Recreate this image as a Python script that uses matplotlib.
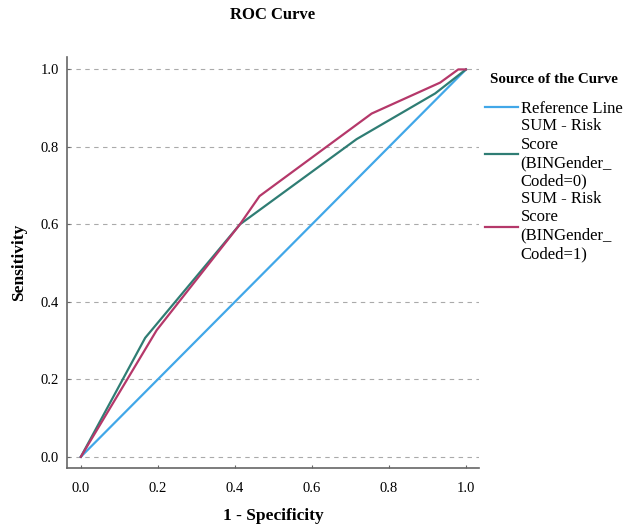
import matplotlib.pyplot as plt

# ROC points
ref_x = [0.0, 1.0]
ref_y = [0.0, 1.0]
male_x = [0.0, 0.167, 0.413, 0.716, 0.92, 1.0]
male_y = [0.0, 0.307, 0.600, 0.820, 0.938, 1.0]
female_x = [0.0, 0.197, 0.413, 0.464, 0.755, 0.933, 0.98, 1.0]
female_y = [0.0, 0.327, 0.600, 0.673, 0.886, 0.966, 1.0, 1.0]
labels = ["Reference Line",
          "SUM - Risk\nScore\n(BINGender_\nCoded=0)",
          "SUM - Risk\nScore\n(BINGender_\nCoded=1)"]
ticks = [0.0, 0.2, 0.4, 0.6, 0.8, 1.0]

plt.rcParams['font.family'] = ['Liberation Serif', 'DejaVu Serif']


def main():
    """draw the roc chart"""
    fig = plt.figure(figsize=(6.32, 5.31), dpi=100)
    ax = fig.add_axes([0.106, 0.1186, 0.652, 0.774])
    ax.plot(ref_x, ref_y, color="#41a7e8", lw=1.6, label=labels[0])
    ax.plot(male_x, male_y, color="#2f7d74", lw=1.6, label=labels[1])
    ax.plot(female_x, female_y, color="#b5386a", lw=1.6, label=labels[2])

    ax.set_xlim(-0.036, 1.034)
    ax.set_ylim(-0.029, 1.032)
    ax.set_xticks(ticks)
    ax.set_yticks(ticks)
    ax.set_xticklabels([f"{t:.1f}" for t in ticks])
    ax.set_yticklabels([f"{t:.1f}" for t in ticks])
    ax.tick_params(length=2, direction="in", labelsize=10.5, color="#666666")
    ax.tick_params(axis="x", pad=10)
    ax.tick_params(axis="y", pad=6)
    ax.grid(axis="y", linestyle=(0, (4, 4)), color="#aaaaaa", lw=0.8)
    ax.set_axisbelow(True)
    for side in ["top", "right"]:
        ax.spines[side].set_visible(False)
    for side in ["left", "bottom"]:
        ax.spines[side].set_color("#666666")
        ax.spines[side].set_linewidth(1.2)

    ax.set_xlabel("1 - Specificity", fontsize=12.5, fontweight="bold", va="center")
    ax.xaxis.set_label_coords(0.5, -0.117)
    ax.set_ylabel("Sensitivity", fontsize=12.5, fontweight="bold", va="center")
    ax.yaxis.set_label_coords(-0.116, 0.5)
    fig.text(0.432, 0.972, "ROC Curve", fontsize=12, fontweight="bold",
             ha="center", va="center")

    leg = ax.legend(loc="upper left", bbox_to_anchor=(0.998, 0.978), frameon=False,
                    title="Source of the Curve", fontsize=12, handlelength=2.0,
                    handletextpad=0.15, labelspacing=0.08, borderaxespad=0.0)
    leg.get_title().set_fontweight("bold")
    leg.get_title().set_fontsize(10.8)
    leg._legend_box.sep = 11
    fig.savefig("out.png", dpi=100)


if __name__ == "__main__":
    main()
